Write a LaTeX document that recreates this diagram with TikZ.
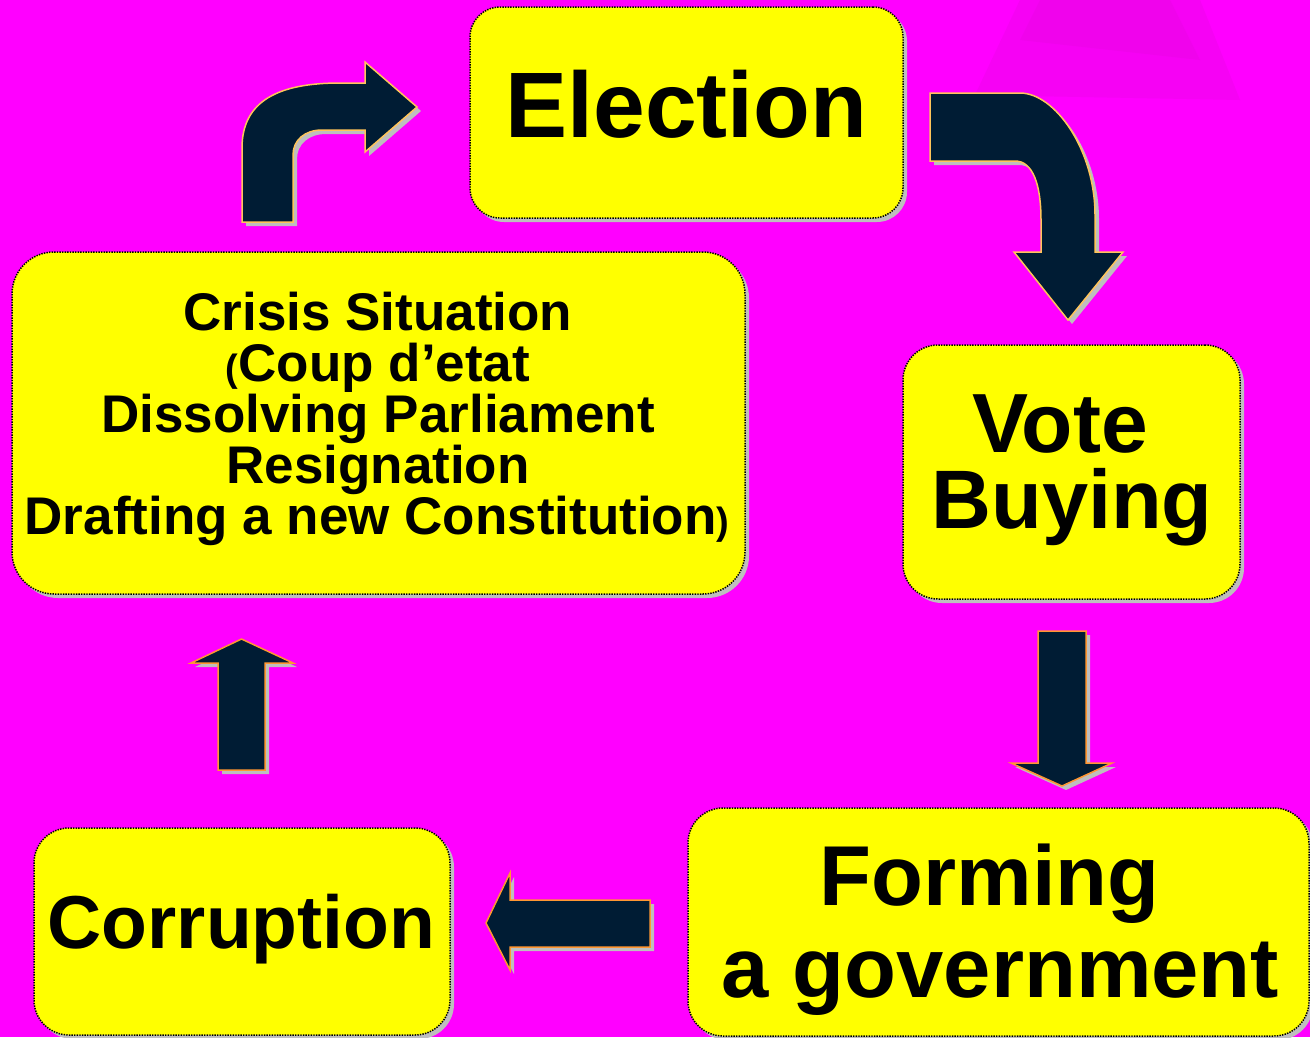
\documentclass[tikz,border=0pt]{standalone}
\usepackage{fontspec}
\setmainfont{Liberation Sans}
\usetikzlibrary{shadows}
\definecolor{bgmag}{RGB}{255,0,255}
\definecolor{boxyellow}{RGB}{255,255,0}
\definecolor{navyfill}{RGB}{0,28,52}
\definecolor{goldline}{RGB}{255,196,90}
\definecolor{orangeline}{RGB}{255,150,50}
\definecolor{shadowgray}{RGB}{190,190,190}
\definecolor{smudge}{RGB}{215,10,205}
\tikzset{
  card/.style={draw=black, line width=1.5pt, dash pattern=on 1.4pt off 1.2pt,
    fill=boxyellow, rounded corners=#1, inner sep=0pt,
    drop shadow={shadow xshift=4pt, shadow yshift=-4pt, fill=shadowgray, opacity=1}},
  card/.default=32pt,
  lbl/.style={inner sep=0pt, anchor=base, font=\fontsize{#1}{#1}\selectfont\bfseries},
  bentarrow/.style={fill=navyfill, draw=goldline, line width=1.5pt, line join=miter,
    drop shadow={shadow xshift=4pt, shadow yshift=-4pt, fill=shadowgray, opacity=1}},
  blockarrow/.style={fill=navyfill, draw=orangeline, line width=1.5pt, line join=miter,
    drop shadow={shadow xshift=4pt, shadow yshift=-4pt, fill=shadowgray, opacity=1}}
}
\begin{document}
\begin{tikzpicture}[x=1pt,y=-1pt]
\useasboundingbox (0,0) rectangle (1310,1037);
\fill[bgmag] (0,0) rectangle (1310,1037);
\fill[smudge, opacity=0.22] (975,95) -- (1020,0) -- (1200,0) -- (1240,100) -- cycle;
\fill[smudge, opacity=0.18] (1020,40) -- (1040,0) -- (1170,0) -- (1200,60) -- cycle;

% boxes
\node[card=30pt, minimum width=433pt, minimum height=211pt] (election) at (686.5,112.5) {};
\node[card=42pt, minimum width=733pt, minimum height=342pt] (crisis) at (378.5,423) {};
\node[card=35pt, minimum width=337pt, minimum height=254pt] (vote) at (1071.5,472) {};
\node[card=35pt, minimum width=621pt, minimum height=228pt] (forming) at (998.5,922) {};
\node[card=35pt, minimum width=416pt, minimum height=207pt] (corruption) at (242,931.5) {};

% texts
\node[lbl=93] (tElection) at (686.5,137) {Election};
\node[lbl=53] (tCrisisA) at (378,330) {Crisis Situation};
\node[lbl=53] (tCrisisB) at (378,381) {{\fontsize{38}{38}\selectfont(}Coup d’etat};
\node[lbl=53] (tCrisisC) at (378,432) {Dissolving Parliament};
\node[lbl=53] (tCrisisD) at (378,483) {Resignation};
\node[lbl=53] (tCrisisE) at (377,534) {Drafting a new Constitution{\fontsize{38}{38}\selectfont)}};
\node[lbl=84] (tVoteA) at (1060,452) {Vote};
\node[lbl=83] (tVoteB) at (1072,528) {Buying};
\node[lbl=85] (tFormA) at (989.5,905) {Forming};
\node[lbl=85] (tFormB) at (1000.5,997) {a government};
\node[lbl=75] (tCorr) at (241.5,948) {Corruption};

% arrows
\path[bentarrow] (242,222) -- (242,148) .. controls (242,100) and (280,83) .. (340,83)
  -- (365,83) -- (365,62) -- (417,107) -- (365,152) -- (365,130) -- (322,130)
  .. controls (305,130) and (293,140) .. (293,155) -- (293,222) -- cycle;
\path[bentarrow] (930,93) -- (1020,93) .. controls (1055,93) and (1095,150) .. (1095,215)
  -- (1095,252) -- (1123,252) -- (1068,320) -- (1014,252) -- (1041,252) -- (1041,220)
  .. controls (1041,185) and (1033,161) .. (1015,161) -- (930,161) -- cycle;
\path[blockarrow] (1038,631) -- (1086,631) -- (1086,763) -- (1112,763) -- (1062,786)
  -- (1011,763) -- (1038,763) -- cycle;
\path[blockarrow] (650,900) -- (510,900) -- (510,873) -- (486,923) -- (510,970)
  -- (510,947) -- (650,947) -- cycle;
\path[blockarrow] (218,770) -- (218,663) -- (191,663) -- (241.5,639) -- (293,663)
  -- (265,663) -- (265,770) -- cycle;
\end{tikzpicture}
\end{document}
